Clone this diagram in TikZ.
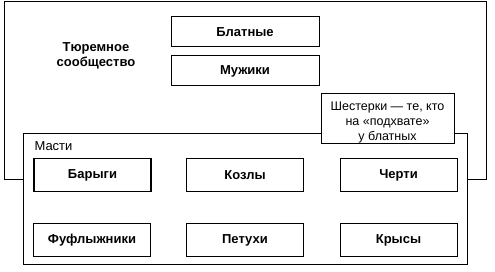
\documentclass[tikz,border=0pt]{standalone}
\usepackage{fontspec}
\setmainfont{Liberation Sans}
\tikzset{
  frame/.style={draw, line width=1pt, fill=white, inner sep=0},
  rank/.style={frame, minimum width=117, minimum height=33, font=\bfseries\fontsize{13}{15}\selectfont},
  top rank/.style={frame, minimum width=148, minimum height=30, font=\bfseries\fontsize{13}{15}\selectfont},
  note/.style={align=center, inner sep=0, font=\fontsize{12.5}{15}\selectfont},
}

\begin{document}
\begin{tikzpicture}[x=1pt, y=-1pt]
  \useasboundingbox (0,0) rectangle (495,272);

  % ---- the outer frame and the inner "suits" frame
  \node[frame, minimum width=482, minimum height=178] (soc) at (245, 91) {};
  \node[frame, minimum width=444, minimum height=131] (suits) at (245, 199.5) {};
  \node[frame, minimum width=133, minimum height=50] (six) at (387.5, 119) {};
  \node[note] (sixtext) at (387.5, 122) {Шестерки --- те, кто\\на «подхвате»\\у блатных};

  % ---- captions
  \node[align=center, font=\bfseries\fontsize{13}{15}\selectfont] (soclabel) at (96, 56) {Тюремное\\сообщество};
  \node[anchor=west, font=\fontsize{13}{15}\selectfont] (suitslabel) at (31, 146) {Масти};

  % ---- upper ranks
  \node[top rank] (blat) at (245, 32) {Блатные};
  \node[top rank] (muzh) at (245, 71) {Мужики};

  % ---- suits: two rows of three
  \node[rank, line width=1.8pt] (bar) at (92.5, 175) {Барыги};
  \node[rank] (koz) at (245, 175) {Козлы};
  \node[rank] (cher) at (398.5, 175) {Черти};
  \node[rank] (fuf) at (92, 240) {Фуфлыжники};
  \node[rank] (pet) at (245, 240) {Петухи};
  \node[rank] (krys) at (398.5, 240) {Крысы};

\end{tikzpicture}
\end{document}
